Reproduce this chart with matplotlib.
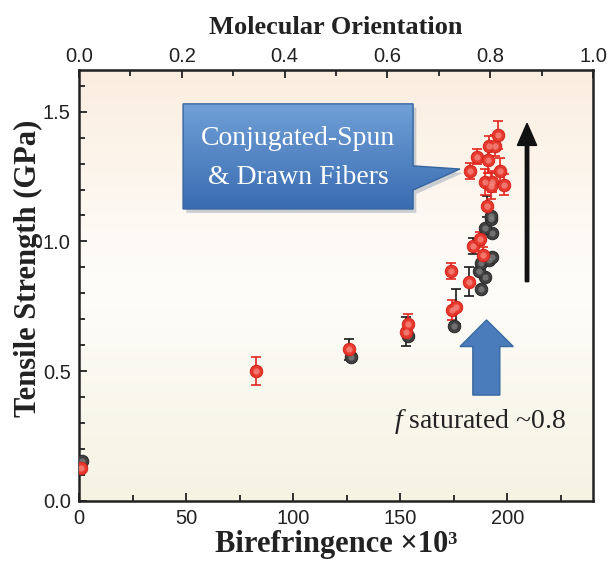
import numpy as np
import matplotlib.pyplot as plt
from matplotlib.patches import Polygon, FancyArrow
from matplotlib.ticker import MultipleLocator

plt.rcParams['mathtext.fontset'] = 'custom'
plt.rcParams['mathtext.it'] = 'Liberation Serif:italic'
plt.rcParams['mathtext.rm'] = 'Liberation Serif'

# --- DADOS ---
# pontos vermelhos (fibras conjugadas)
red_x = [0.9, 82.7, 126.2, 152.8, 153.6, 174.2, 176.0, 173.7, 181.9, 183.8, 187.4, 188.6,
         190.5, 182.7, 189.4, 192.8, 192.4, 198.3, 196.4, 185.8, 191.0, 191.6, 194.1, 195.5]
red_y = [0.126, 0.500, 0.585, 0.652, 0.682, 0.736, 0.749, 0.886, 0.845, 0.983, 1.010, 0.948,
         1.135, 1.272, 1.230, 1.230, 1.214, 1.218, 1.273, 1.327, 1.314, 1.368, 1.369, 1.410]
red_err = [0.0, 0.055, 0.04, 0.055, 0.04, 0.04, 0.068, 0.03, 0.055, 0.03, 0.025, 0.03,
           0.04, 0.03, 0.05, 0.04, 0.05, 0.04, 0.05, 0.03, 0.05, 0.04, 0.04, 0.055]
# cor da barra de erro de cada ponto vermelho
red_err_col = ['r', 'r', 'k', 'k', 'r', 'r', 'k', 'r', 'k', 'k', 'r', 'r',
               'k', 'r', 'r', 'r', 'r', 'r', 'r', 'r', 'r', 'r', 'r', 'r']

# pontos pretos
blk_x = [1.3, 127.1, 153.6, 175.2, 187.7, 189.4, 186.6, 187.7, 191.3, 192.8, 192.8, 189.7, 192.2, 192.5]
blk_y = [0.154, 0.554, 0.636, 0.674, 0.816, 0.864, 0.886, 0.918, 0.929, 0.941, 1.032, 1.051, 1.087, 1.098]

# ticks
x_ticks = [0, 50, 100, 150, 200]
y_ticks = [0.0, 0.5, 1.0, 1.5]
top_ticks = [0.0, 0.2, 0.4, 0.6, 0.8, 1.0]
top_minor = [0.1, 0.3, 0.5, 0.7, 0.9]

X_MAX = 240
Y_MAX = 1.66
TICK_SIZE = 14.5

fig = plt.figure(figsize=(6.09, 5.61), dpi=100)
ax = fig.add_axes([0.1297, 0.107, 0.8440, 0.768])

# fundo em degradê (pêssego -> branco -> amarelado)
top_c = np.array([251, 238, 224]) / 255
mid_c = np.array([254, 253, 250]) / 255
bot_c = np.array([245, 243, 226]) / 255
t = np.linspace(0, 1, 200)[:, None]
grad = np.where(t < 0.5, top_c + (mid_c - top_c) * (t / 0.5), mid_c + (bot_c - mid_c) * ((t - 0.5) / 0.5))
ax.imshow(grad[:, None, :], extent=[0, X_MAX, 0, Y_MAX], aspect='auto', zorder=0)

# barras de erro
for x, y, e, c in zip(red_x, red_y, red_err, red_err_col):
    if e > 0:
        col = '#e3261f' if c == 'r' else '#1a1a1a'
        ax.errorbar(x, y, yerr=e, fmt='none', ecolor=col, elinewidth=1.2, capsize=3.5, capthick=1.2, zorder=2)

# marcadores com aspecto de esfera
ax.plot(blk_x, blk_y, 'o', ms=9, mfc='#404040', mec='#262626', mew=0.7, zorder=3)
ax.plot(blk_x, blk_y, 'o', ms=4.5, mfc='#858585', mec='none', alpha=0.7, zorder=3)
ax.plot(red_x, red_y, 'o', ms=9, mfc='#e8392f', mec='#d2231b', mew=0.7, zorder=4)
ax.plot(red_x, red_y, 'o', ms=4.5, mfc='#f49189', mec='none', alpha=0.7, zorder=4)

ax.set_xlim(0, X_MAX)
ax.set_ylim(0, Y_MAX)

# eixos
for s in ax.spines.values():
    s.set_linewidth(1.8)
    s.set_color('#222222')
ax.set_xticks(x_ticks)
ax.xaxis.set_minor_locator(MultipleLocator(25))
ax.set_yticks(y_ticks)
ax.set_yticklabels([f'{v:.1f}' for v in y_ticks])
ax.yaxis.set_minor_locator(MultipleLocator(0.1))
ax.tick_params(which='both', direction='in', width=1.3, colors='#222222', labelsize=TICK_SIZE,
               labelcolor='#222222', pad=6)
ax.tick_params(which='major', length=6)
ax.tick_params(which='minor', length=4)
for lab in ax.get_xticklabels() + ax.get_yticklabels():
    lab.set_family('Liberation Sans')

sec = ax.secondary_xaxis('top', functions=(lambda x: x / X_MAX, lambda f: f * X_MAX))
sec.set_xticks(top_ticks)
sec.set_xticklabels([f'{v:.1f}' for v in top_ticks])
sec.set_xticks(top_minor, minor=True)
sec.tick_params(which='both', direction='in', width=1.3, colors='#222222', labelsize=TICK_SIZE, pad=3)
sec.tick_params(which='major', length=6)
sec.tick_params(which='minor', length=4)
for lab in sec.get_xticklabels():
    lab.set_family('Liberation Sans')
sec.set_xlabel('Molecular Orientation', family='Liberation Serif', fontsize=19,
               fontweight='bold', color='#222222', labelpad=9)

ax.set_xlabel('Birefringence ×10³', family='Liberation Serif', fontsize=22,
              fontweight='bold', color='#222222', labelpad=1)
ax.set_ylabel('Tensile Strength (GPa)', family='Liberation Serif', fontsize=22,
              fontweight='bold', color='#222222')
ax.yaxis.set_label_coords(-0.07, 0.54)

# balão azul com texto
bx0, bx1, by0, by1 = 48.6, 156.0, 1.125, 1.530
balloon = Polygon([(bx0, by0), (bx0, by1), (bx1, by1), (bx1, 1.291), (177.9, 1.279),
                   (bx1, 1.198), (bx1, by0)], closed=True, fc='none', ec='#3565a0', lw=1.0, zorder=6)
shadow = Polygon([(bx0 + 1.5, by0 - 0.015), (bx0 + 1.5, by1 - 0.015), (bx1 + 1.5, by1 - 0.015),
                  (bx1 + 1.5, 1.276), (179.4, 1.264), (bx1 + 1.5, 1.183), (bx1 + 1.5, by0 - 0.015)],
                 closed=True, fc='#9aa6b4', ec='none', alpha=0.5, zorder=5)
ax.add_patch(shadow)
ax.add_patch(balloon)
b_top = np.array([112, 160, 214]) / 255
b_bot = np.array([58, 108, 178]) / 255
tb = np.linspace(0, 1, 100)[:, None]
bgrad = b_top + (b_bot - b_top) * tb
im = ax.imshow(bgrad[:, None, :], extent=[bx0, 178.5, by0, by1], aspect='auto', zorder=5.5)
im.set_clip_path(balloon)
ax.text((bx0 + bx1) / 2, 1.395, 'Conjugated-Spun', family='Liberation Serif', fontsize=20,
        color='white', ha='center', va='center', zorder=7)
ax.text((bx0 + bx1) / 2, 1.245, '& Drawn Fibers', family='Liberation Serif', fontsize=20,
        color='white', ha='center', va='center', zorder=7)

# seta azul larga
ax.add_patch(Polygon([(183.9, 0.408), (183.9, 0.595), (177.9, 0.595), (190.3, 0.6975),
                      (202.8, 0.595), (196.5, 0.595), (196.5, 0.408)], closed=True,
                     fc='#4a7cbb', ec='#3a68a2', lw=1.0, zorder=5))

# seta preta
ax.add_patch(FancyArrow(209.2, 0.845, 0, 0.61, width=1.6, head_width=9.0, head_length=0.085,
                        length_includes_head=True, fc='#111111', ec='#111111', zorder=5))

# texto f saturado
ax.text(147.0, 0.305, r'$f$ saturated ~0.8', fontsize=20, color='#222222', va='center', ha='left',
        family='Liberation Serif', zorder=6)

fig.savefig('out.png', dpi=100)
